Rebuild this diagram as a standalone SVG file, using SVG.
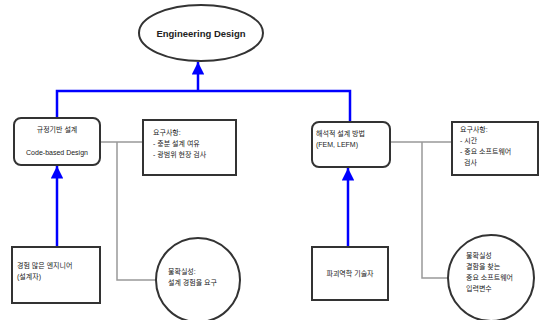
<svg xmlns="http://www.w3.org/2000/svg" width="544" height="320" viewBox="0 0 544 320">
<defs>
<marker id="ah" viewBox="0 0 10 10" refX="10" refY="5" markerWidth="5" markerHeight="5" orient="auto" markerUnits="strokeWidth">
<path d="M0,0 L10,5 L0,10 z" fill="#0000ff"/>
</marker>
<style>
.box{fill:#fff;stroke:#333;stroke-width:2}
.blue{fill:none;stroke:#0000ff;stroke-width:2.5}
.gray{fill:none;stroke:#999;stroke-width:1.5}
.t{font-family:"Liberation Sans","Noto Sans CJK KR",sans-serif;font-size:7px;fill:#222}
.tb{font-family:"Liberation Sans",sans-serif;font-size:9.5px;font-weight:bold;fill:#222}
</style>
</defs>
<rect width="544" height="320" fill="#fff"/>
<g id="connectors">
<polyline class="blue" points="57,118 57,91 350,91 350,122"/>
<line class="blue" x1="198" y1="91" x2="198" y2="62" marker-end="url(#ah)"/>
<line class="blue" x1="57" y1="247" x2="57" y2="166" marker-end="url(#ah)"/>
<line class="blue" x1="348" y1="247" x2="348" y2="168" marker-end="url(#ah)"/>
<line class="gray" x1="100" y1="142" x2="143" y2="142"/>
<polyline class="gray" points="117,142 117,280 156,280"/>
<line class="gray" x1="390" y1="142" x2="452" y2="142"/>
<polyline class="gray" points="422,142 422,278 448,278"/>
</g>
<g id="engineering-design">
<ellipse class="box" cx="201" cy="33" rx="62" ry="28"/>
<text class="tb" x="201" y="37" text-anchor="middle">Engineering Design</text>
</g>
<g id="code-based">
<rect class="box" x="14" y="118" width="86" height="47" rx="7"/>
<text class="t" x="57" y="132" text-anchor="middle">규정기반 설계</text>
<text class="t" x="57" y="155" text-anchor="middle">Code-based Design</text>
</g>
<g id="req-left">
<rect class="box" x="143" y="120" width="93" height="55"/>
<text class="t" x="153" y="135">요구사항:</text>
<text class="t" x="153" y="146">- 충분 설계 여유</text>
<text class="t" x="153" y="157">- 광범위 현장 검사</text>
</g>
<g id="analytic">
<rect class="box" x="312" y="122" width="78" height="45" rx="7"/>
<text class="t" x="316" y="136">해석적 설계 방법</text>
<text class="t" x="316" y="147">(FEM, LEFM)</text>
</g>
<g id="req-right">
<rect class="box" x="452" y="122" width="86" height="53"/>
<text class="t" x="460" y="132">요구사항:</text>
<text class="t" x="460" y="143">- 시간</text>
<text class="t" x="460" y="154">- 중요 소프트웨어</text>
<text class="t" x="464" y="165">검사</text>
</g>
<g id="designer">
<rect class="box" x="12" y="247" width="88" height="56"/>
<text class="t" x="17" y="268">경험 많은 엔지니어</text>
<text class="t" x="17" y="279">(설계자)</text>
</g>
<g id="uncertainty-left">
<circle class="box" cx="198" cy="280" r="42"/>
<text class="t" x="168" y="274">불확실성:</text>
<text class="t" x="168" y="285">설계 경험을 요구</text>
</g>
<g id="fracture-engineer">
<rect class="box" x="312" y="247" width="76" height="53"/>
<text class="t" x="350" y="276" text-anchor="middle">파괴역학 기술자</text>
</g>
<g id="uncertainty-right">
<circle class="box" cx="491" cy="278" r="43"/>
<text class="t" x="466" y="258">불확실성</text>
<text class="t" x="466" y="269">결함을 찾는</text>
<text class="t" x="466" y="280">중요 소프트웨어</text>
<text class="t" x="466" y="291">입력변수</text>
</g>
</svg>
